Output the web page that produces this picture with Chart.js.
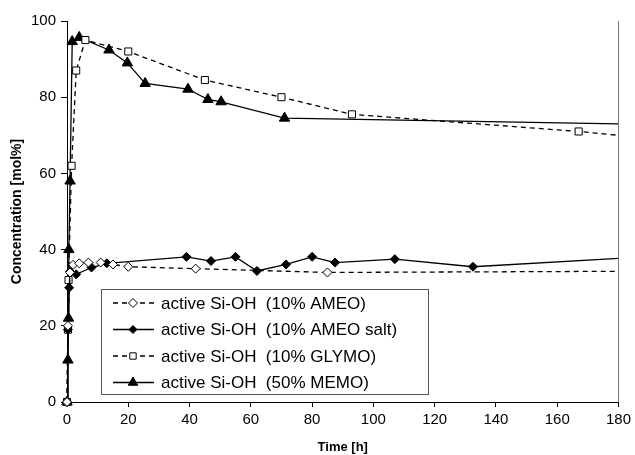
<!DOCTYPE html>
<html>
<head>
<meta charset="utf-8">
<script src="https://cdn.jsdelivr.net/npm/chart.js@4/dist/chart.umd.min.js"></script>
<style>
    html, body { margin: 0; padding: 0; background: #fff; }
    #wrap { width: 635px; height: 455px; }
</style>
</head>
<body>
<div id="wrap"><canvas id="concChart" width="635" height="455"></canvas></div>
<script>
// values (time in h, concentration in mol%)
const ameoTime = [0, 0.3, 1, 2, 4, 7, 11, 15, 20, 42, 85, 180];
const ameoConc = [0, 20, 34, 36, 36.4, 36.6, 36.6, 36.1, 35.5, 35, 34, 34.3];

const ameoSaltTime = [0, 0.3, 0.7, 1, 3, 8, 13, 39, 47, 55, 62, 71.5, 80, 87.5, 107, 132.5, 180];
const ameoSaltConc = [0, 19, 30, 34.2, 33.5, 35.3, 36.4, 38.1, 37, 38.1, 34.4, 36.1, 38.1, 36.6, 37.5, 35.5, 37.7];

const glymoTime = [0, 0.3, 0.5, 1.5, 3, 6, 20, 45, 70, 93, 167, 180];
const glymoConc = [0, 19, 32, 62, 87, 95, 92, 84.5, 80, 75.5, 71, 70];

const memoTime = [0, 0.3, 0.5, 0.6, 1, 1.7, 4, 13.7, 19.7, 25.5, 39.5, 46, 50.3, 71, 180];
const memoConc = [0, 11, 22, 40, 58, 94.6, 95.7, 92.4, 89, 83.6, 82.1, 79.4, 78.8, 74.5, 73];

const yTicks = [0, 20, 40, 60, 80, 100];
const xTicks = [0, 20, 40, 60, 80, 100, 120, 140, 160, 180];

const seriesLabels = [
    'active Si-OH  (10% AMEO)',
    'active Si-OH  (10% AMEO salt)',
    'active Si-OH  (10% GLYMO)',
    'active Si-OH  (50% MEMO)'
];

const FONT = '"Liberation Sans", Arial, sans-serif';

function pairs(xs, ys) {
    return xs.map((x, i) => ({ x: x, y: ys[i] }));
}

// no marker on the segment that runs into the right border
function markerSize(size) {
    return ctx => (ctx.raw && ctx.raw.x >= 180 ? 0 : size);
}

function series(label, xs, ys, opts) {
    return Object.assign({
        label: label,
        data: pairs(xs, ys),
        showLine: true,
        borderColor: '#000',
        borderWidth: 1.3,
        pointBorderColor: '#000',
        pointBorderWidth: 1,
        clip: false,
        tension: 0
    }, opts);
}

// legend box drawn inside the plot, Excel style
const boxLegend = {
    id: 'boxLegend',
    afterDraw(chart) {
        const c = chart.ctx;
        const x0 = 101, y0 = 289, w = 327, h = 105;
        c.save();
        c.fillStyle = '#fff';
        c.fillRect(x0, y0, w, h);
        chart.data.datasets.forEach((ds, i) => {
            const cy = y0 + 14 + i * 26.5;
            c.strokeStyle = '#000';
            c.lineWidth = ds.borderWidth;
            c.setLineDash(ds.borderDash || []);
            c.beginPath();
            c.moveTo(x0 + 12, cy);
            c.lineTo(x0 + 53, cy);
            c.stroke();
            c.setLineDash([]);
            c.fillStyle = ds.pointBackgroundColor;
            c.strokeStyle = '#000';
            c.lineWidth = 1;
            Chart.helpers.drawPoint(c, {
                pointStyle: ds.pointStyle,
                radius: ds.legendRadius,
                borderWidth: 1
            }, x0 + 32, cy);
            c.fillStyle = '#000';
            c.font = '17px ' + FONT;
            c.textBaseline = 'middle';
            c.fillText(ds.label, x0 + 60, cy + 1);
        });
        // frame last, the longest label runs into it
        c.fillStyle = '#fff';
        c.fillRect(x0 + w + 1, y0 + 20, 6, 20);
        c.strokeStyle = '#555';
        c.lineWidth = 1;
        c.strokeRect(x0 + 0.5, y0 + 0.5, w, h);
        c.restore();
    }
};

// right hand frame line
const rightFrame = {
    id: 'rightFrame',
    afterDatasetsDraw(chart) {
        const a = chart.chartArea;
        const c = chart.ctx;
        c.save();
        c.strokeStyle = '#777';
        c.lineWidth = 1;
        c.beginPath();
        c.moveTo(Math.round(a.right) + 0.5, a.top);
        c.lineTo(Math.round(a.right) + 0.5, a.bottom);
        c.stroke();
        c.restore();
    }
};

new Chart(document.getElementById('concChart'), {
    type: 'scatter',
    data: {
        datasets: [
            series(seriesLabels[0], ameoTime, ameoConc, {
                borderDash: [5, 4],
                pointStyle: 'rectRot',
                pointRadius: markerSize(4.5),
                legendRadius: 4.5,
                pointBackgroundColor: '#fff'
            }),
            series(seriesLabels[1], ameoSaltTime, ameoSaltConc, {
                pointStyle: 'rectRot',
                pointRadius: markerSize(4.5),
                legendRadius: 4,
                pointBackgroundColor: '#000'
            }),
            series(seriesLabels[2], glymoTime, glymoConc, {
                borderDash: [5, 4],
                pointStyle: 'rect',
                pointRadius: markerSize(5),
                legendRadius: 4.5,
                pointBackgroundColor: '#fff'
            }),
            series(seriesLabels[3], memoTime, memoConc, {
                pointStyle: 'triangle',
                pointRadius: markerSize(6),
                legendRadius: 5.5,
                pointBackgroundColor: '#000'
            })
        ]
    },
    options: {
        responsive: false,
        animation: false,
        layout: { padding: { top: 21, right: 14, left: 0, bottom: 0 } },
        plugins: {
            legend: { display: false },
            tooltip: { enabled: false }
        },
        scales: {
            x: {
                type: 'linear',
                min: 0,
                max: 180,
                afterBuildTicks: s => { s.ticks = xTicks.map(v => ({ value: v })); },
                afterFit: s => { s.height = 53; },
                grid: { display: true, drawOnChartArea: false, color: '#000', tickLength: 5 },
                border: { color: '#000', width: 1 },
                ticks: { color: '#000', font: { family: FONT, size: 15 }, padding: 4, maxRotation: 0 },
                title: {
                    display: true,
                    text: 'Time [h]',
                    color: '#000',
                    font: { family: FONT, size: 13, weight: 'bold' },
                    padding: { top: 4, bottom: 0 }
                }
            },
            y: {
                min: 0,
                max: 100,
                afterBuildTicks: s => { s.ticks = yTicks.map(v => ({ value: v })); },
                afterFit: s => { s.width = 67; },
                grid: { display: true, drawOnChartArea: false, color: '#000', tickLength: 6 },
                border: { color: '#000', width: 1 },
                ticks: { color: '#000', font: { family: FONT, size: 15 }, padding: 5 },
                title: {
                    display: true,
                    text: 'Concentration [mol%]',
                    color: '#000',
                    font: { family: FONT, size: 14, weight: 'bold' },
                    padding: { top: 9, bottom: 0 }
                }
            }
        }
    },
    plugins: [rightFrame, boxLegend]
});
</script>
</body>
</html>
